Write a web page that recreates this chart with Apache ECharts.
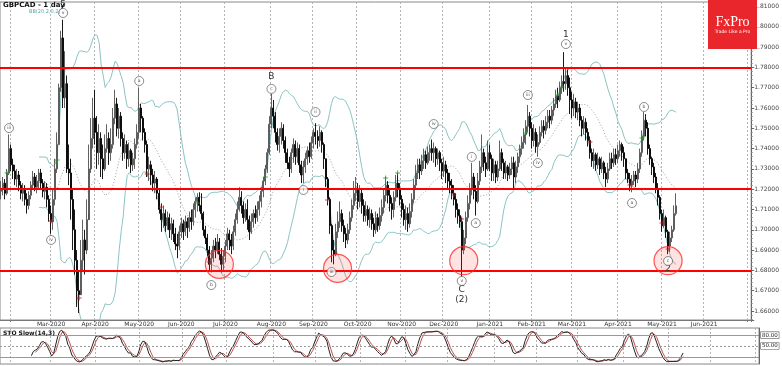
<!DOCTYPE html>
<html><head><meta charset="utf-8">
<script src="https://cdn.jsdelivr.net/npm/echarts@6/dist/echarts.min.js"></script>
<style>html,body{margin:0;padding:0;background:#fff}#c{width:782px;height:366px}</style>
</head><body><div id="c"></div>
<script>
// ---------------- DATA ----------------
const startDate = '2020-01-27';          // first daily bar (weekdays only)
const totalSlots = 375;                   // bars + empty future space on the axis
const firstOpen = 1.7190;
const closes = [
1.7200,1.7230,1.7180,1.7280,1.7400,1.7320,1.7290,1.7250,1.7270,1.7220,
1.7180,1.7200,1.7150,1.7120,1.7170,1.7220,1.7260,1.7210,1.7240,1.7280,
1.7230,1.7190,1.7210,1.7150,1.7080,1.7040,1.7150,1.7300,1.7420,1.7700,
1.7945,1.7650,1.7720,1.7300,1.7280,1.7150,1.7000,1.6850,1.6700,1.6680,
1.6850,1.6950,1.6900,1.7050,1.7300,1.7450,1.7550,1.7480,1.7380,1.7450,
1.7350,1.7300,1.7400,1.7450,1.7380,1.7420,1.7550,1.7620,1.7500,1.7560,
1.7450,1.7380,1.7420,1.7350,1.7390,1.7320,1.7350,1.7420,1.7480,1.7600,
1.7550,1.7480,1.7420,1.7300,1.7320,1.7270,1.7230,1.7250,1.7180,1.7100,
1.7050,1.7080,1.7020,1.7060,1.7000,1.7030,1.6980,1.6930,1.6920,1.6990,
1.7030,1.6990,1.7040,1.7010,1.7060,1.7040,1.7100,1.7140,1.7160,1.7120,
1.7080,1.7000,1.6960,1.6900,1.6830,1.6860,1.6920,1.6900,1.6940,1.6880,
1.6830,1.6870,1.6920,1.6980,1.6950,1.6920,1.6990,1.7050,1.7100,1.7160,
1.7120,1.7060,1.7100,1.7050,1.6990,1.7040,1.7080,1.7060,1.7100,1.7140,
1.7190,1.7240,1.7300,1.7380,1.7520,1.7600,1.7560,1.7480,1.7420,1.7460,
1.7500,1.7440,1.7380,1.7330,1.7300,1.7380,1.7420,1.7360,1.7400,1.7320,
1.7270,1.7310,1.7350,1.7390,1.7360,1.7430,1.7480,1.7460,1.7440,1.7480,
1.7420,1.7350,1.7250,1.7150,1.7020,1.6900,1.6880,1.6990,1.7040,1.7080,
1.7020,1.6980,1.6950,1.7000,1.7060,1.7120,1.7180,1.7200,1.7140,1.7180,
1.7120,1.7070,1.7100,1.7050,1.7080,1.7030,1.7000,1.7060,1.7020,1.7070,
1.7110,1.7170,1.7220,1.7170,1.7130,1.7100,1.7160,1.7230,1.7200,1.7150,
1.7100,1.7050,1.7080,1.7030,1.7090,1.7150,1.7220,1.7280,1.7320,1.7290,
1.7340,1.7370,1.7330,1.7380,1.7400,1.7380,1.7400,1.7350,1.7380,1.7330,
1.7290,1.7320,1.7280,1.7240,1.7220,1.7180,1.7150,1.7100,1.7070,1.7040,
1.6900,1.6960,1.7060,1.7130,1.7200,1.7260,1.7190,1.7140,1.7240,1.7310,
1.7380,1.7330,1.7300,1.7380,1.7350,1.7280,1.7320,1.7260,1.7300,1.7380,
1.7330,1.7280,1.7310,1.7270,1.7300,1.7330,1.7260,1.7310,1.7360,1.7400,
1.7430,1.7470,1.7510,1.7560,1.7500,1.7440,1.7480,1.7410,1.7430,1.7480,
1.7510,1.7490,1.7530,1.7560,1.7540,1.7590,1.7620,1.7660,1.7640,1.7700,
1.7730,1.7720,1.7760,1.7700,1.7640,1.7600,1.7630,1.7580,1.7600,1.7540,
1.7500,1.7530,1.7480,1.7440,1.7380,1.7340,1.7370,1.7320,1.7350,1.7300,
1.7330,1.7280,1.7250,1.7300,1.7350,1.7330,1.7370,1.7350,1.7390,1.7420,
1.7380,1.7350,1.7280,1.7250,1.7220,1.7240,1.7270,1.7250,1.7300,1.7380,
1.7460,1.7540,1.7500,1.7400,1.7350,1.7310,1.7260,1.7200,1.7160,1.7080,
1.7020,1.7060,1.6990,1.6920,1.6960,1.7000,1.7080,1.71183
];
const highs = [
1.7240,1.7260,1.7250,1.7300,1.7470,1.7420,1.7350,1.7320,1.7300,1.7290,
1.7240,1.7230,1.7220,1.7180,1.7190,1.7240,1.7290,1.7280,1.7270,1.7300,
1.7300,1.7250,1.7240,1.7230,1.7170,1.7120,1.7200,1.7350,1.7480,1.7720,
1.7980,1.8035,1.7880,1.7760,1.7420,1.7350,1.7200,1.7100,1.6900,1.6800,
1.6950,1.7050,1.7000,1.7150,1.7420,1.7550,1.7650,1.7690,1.7560,1.7520,
1.7480,1.7420,1.7470,1.7520,1.7480,1.7500,1.7600,1.7690,1.7650,1.7600,
1.7580,1.7480,1.7470,1.7440,1.7430,1.7400,1.7380,1.7450,1.7520,1.7700,
1.7620,1.7560,1.7500,1.7440,1.7360,1.7340,1.7300,1.7290,1.7260,1.7200,
1.7130,1.7120,1.7100,1.7090,1.7080,1.7060,1.7050,1.7010,1.6980,1.7020,
1.7060,1.7050,1.7070,1.7060,1.7090,1.7100,1.7130,1.7160,1.7180,1.7185,
1.7180,1.7090,1.7020,1.6980,1.6920,1.6900,1.6950,1.6960,1.6980,1.6960,
1.6910,1.6900,1.6950,1.7010,1.7000,1.6980,1.7020,1.7080,1.7140,1.7210,
1.7190,1.7140,1.7130,1.7150,1.7070,1.7080,1.7100,1.7120,1.7140,1.7170,
1.7210,1.7260,1.7320,1.7400,1.7560,1.7670,1.7640,1.7580,1.7500,1.7500,
1.7530,1.7520,1.7460,1.7400,1.7360,1.7400,1.7450,1.7440,1.7430,1.7420,
1.7340,1.7340,1.7380,1.7410,1.7430,1.7460,1.7500,1.7525,1.7490,1.7510,
1.7490,1.7430,1.7350,1.7260,1.7160,1.7030,1.6950,1.7030,1.7090,1.7140,
1.7100,1.7050,1.7010,1.7030,1.7090,1.7150,1.7240,1.7260,1.7230,1.7220,
1.7200,1.7150,1.7140,1.7120,1.7110,1.7100,1.7060,1.7090,1.7080,1.7110,
1.7150,1.7200,1.7260,1.7240,1.7200,1.7160,1.7190,1.7270,1.7280,1.7230,
1.7170,1.7130,1.7120,1.7110,1.7130,1.7180,1.7250,1.7320,1.7350,1.7350,
1.7370,1.7400,1.7390,1.7410,1.7420,1.7445,1.7430,1.7410,1.7400,1.7390,
1.7350,1.7360,1.7340,1.7300,1.7280,1.7250,1.7220,1.7180,1.7130,1.7100,
1.7060,1.7000,1.7090,1.7170,1.7230,1.7330,1.7280,1.7220,1.7280,1.7340,
1.7470,1.7400,1.7360,1.7440,1.7420,1.7370,1.7350,1.7340,1.7340,1.7440,
1.7400,1.7350,1.7340,1.7320,1.7330,1.7360,1.7360,1.7340,1.7380,1.7420,
1.7460,1.7500,1.7540,1.7615,1.7580,1.7530,1.7520,1.7500,1.7470,1.7510,
1.7540,1.7540,1.7560,1.7590,1.7590,1.7610,1.7650,1.7690,1.7700,1.7730,
1.7760,1.7875,1.7800,1.7790,1.7750,1.7680,1.7670,1.7650,1.7630,1.7620,
1.7560,1.7560,1.7550,1.7500,1.7460,1.7400,1.7400,1.7380,1.7380,1.7360,
1.7360,1.7340,1.7310,1.7330,1.7380,1.7380,1.7400,1.7400,1.7420,1.7440,
1.7430,1.7410,1.7350,1.7300,1.7280,1.7270,1.7290,1.7290,1.7330,1.7400,
1.7490,1.7580,1.7570,1.7530,1.7420,1.7360,1.7330,1.7280,1.7230,1.7170,
1.7100,1.7100,1.7070,1.7000,1.6990,1.7020,1.7120,1.7180
];
const lows = [
1.7150,1.7170,1.7150,1.7170,1.7270,1.7290,1.7250,1.7220,1.7210,1.7190,
1.7150,1.7140,1.7120,1.7080,1.7100,1.7150,1.7200,1.7190,1.7180,1.7200,
1.7200,1.7160,1.7150,1.7110,1.7040,1.6980,1.7000,1.7120,1.7280,1.7420,
1.7680,1.7600,1.7600,1.7280,1.7220,1.7050,1.6900,1.6780,1.6620,1.6590,
1.6700,1.6800,1.6780,1.6880,1.7080,1.7280,1.7400,1.7420,1.7300,1.7320,
1.7260,1.7250,1.7290,1.7380,1.7320,1.7340,1.7400,1.7520,1.7460,1.7450,
1.7410,1.7340,1.7350,1.7300,1.7310,1.7280,1.7290,1.7300,1.7400,1.7450,
1.7480,1.7440,1.7380,1.7260,1.7240,1.7220,1.7190,1.7180,1.7150,1.7080,
1.6990,1.7010,1.6990,1.7000,1.6960,1.6950,1.6940,1.6900,1.6860,1.6900,
1.6960,1.6950,1.6970,1.6960,1.6990,1.7000,1.7020,1.7060,1.7090,1.7090,
1.7050,1.6970,1.6930,1.6870,1.6800,1.6790,1.6840,1.6860,1.6880,1.6850,
1.6790,1.6800,1.6840,1.6900,1.6900,1.6880,1.6900,1.6970,1.7030,1.7090,
1.7080,1.7030,1.7040,1.7000,1.6950,1.6980,1.7010,1.7030,1.7040,1.7070,
1.7110,1.7160,1.7220,1.7280,1.7370,1.7500,1.7500,1.7430,1.7390,1.7380,
1.7420,1.7400,1.7330,1.7300,1.7260,1.7280,1.7330,1.7320,1.7330,1.7280,
1.7230,1.7230,1.7280,1.7320,1.7330,1.7350,1.7400,1.7420,1.7400,1.7410,
1.7380,1.7300,1.7210,1.7120,1.6980,1.6840,1.6830,1.6870,1.6960,1.7010,
1.6990,1.6940,1.6910,1.6930,1.6980,1.7040,1.7100,1.7140,1.7100,1.7110,
1.7080,1.7040,1.7040,1.7020,1.7010,1.7000,1.6965,1.6980,1.6990,1.7000,
1.7040,1.7080,1.7140,1.7130,1.7090,1.7050,1.7060,1.7140,1.7160,1.7120,
1.7060,1.7020,1.7000,1.6990,1.7010,1.7060,1.7130,1.7200,1.7250,1.7250,
1.7270,1.7300,1.7300,1.7320,1.7340,1.7340,1.7330,1.7310,1.7320,1.7290,
1.7250,1.7260,1.7230,1.7200,1.7180,1.7150,1.7120,1.7060,1.7030,1.7010,
1.6770,1.6880,1.6930,1.7040,1.7100,1.7170,1.7150,1.7070,1.7130,1.7220,
1.7280,1.7290,1.7260,1.7290,1.7290,1.7240,1.7240,1.7230,1.7240,1.7290,
1.7290,1.7250,1.7250,1.7240,1.7250,1.7270,1.7200,1.7230,1.7280,1.7330,
1.7370,1.7400,1.7420,1.7480,1.7460,1.7400,1.7410,1.7380,1.7360,1.7420,
1.7460,1.7450,1.7470,1.7500,1.7500,1.7520,1.7560,1.7600,1.7600,1.7630,
1.7670,1.7680,1.7690,1.7660,1.7570,1.7550,1.7560,1.7550,1.7540,1.7510,
1.7460,1.7470,1.7440,1.7410,1.7350,1.7310,1.7300,1.7290,1.7300,1.7270,
1.7280,1.7250,1.7210,1.7230,1.7290,1.7300,1.7310,1.7320,1.7330,1.7360,
1.7340,1.7310,1.7250,1.7230,1.7190,1.7185,1.7220,1.7210,1.7230,1.7280,
1.7360,1.7440,1.7460,1.7370,1.7320,1.7270,1.7230,1.7180,1.7120,1.7050,
1.6990,1.7010,1.6960,1.6880,1.6890,1.6940,1.6990,1.7070
];
const resistanceLevels = [1.7800, 1.7182, 1.6828];   // red horizontal lines
const recentLowBox = 1.69588;                          // pink box on price axis
// wave annotations: [bar index, price, text]
const circledLabels = [
  [4,1.7501,'iii'],[25,1.6950,'iv'],[31,1.8068,'v'],[69,1.7733,'a'],[105,1.6728,'b'],
  [135,1.7694,'c'],[151,1.7196,'i'],[157,1.7580,'ii'],[165,1.6792,'iii'],[216,1.7521,'iv'],
  [230,1.6748,'v'],[235,1.7359,'i'],[237,1.7033,'a'],[263,1.7664,'iii'],[268,1.7329,'iv'],
  [282,1.7915,'v'],[315,1.7132,'a'],[321,1.7605,'b'],[333,1.6846,'c']
];
const waveTitles = [
  [31,1.8108,'5'],[135,1.7753,'B'],[282,1.7960,'1'],[230,1.6704,'C'],[230,1.6655,'(2)'],[333,1.6810,'2']
];
const zoneCircles = [[109,1.6830],[168,1.6810],[231,1.6848],[333,1.6848]];
const upSignals = [[3,1.7280],[28,1.7344],[98,1.7132],[132,1.7260],[192,1.7255],[198,1.7280],[262,1.7477],[278,1.7664],[280,1.7703],[320,1.7452]];
const downSignals = [[25,1.7043],[39,1.6664],[73,1.7275],[80,1.7112],[104,1.6841],[163,1.7147],[226,1.7172],[230,1.7053],[294,1.7432],[314,1.7221],[330,1.7033],[333,1.6906]];

// ---------------- derived structures ----------------
const monthNames = ['Jan','Feb','Mar','Apr','May','Jun','Jul','Aug','Sep','Oct','Nov','Dec'];
const dates = [];
{
  const d = new Date(startDate + 'T00:00:00Z');
  while (dates.length < totalSlots) {
    const wd = d.getUTCDay();
    if (wd > 0 && wd < 6) dates.push(new Date(d.getTime()));
    d.setUTCDate(d.getUTCDate() + 1);
  }
}
const cats = dates.map(d => d.toISOString().slice(0, 10));
const monthStart = dates.map((d, i) => i > 0 && d.getUTCMonth() !== dates[i - 1].getUTCMonth());
const monthLabel = i => monthNames[dates[i].getUTCMonth()] + '-' + dates[i].getUTCFullYear();

const opens = closes.map((c, i) => i === 0 ? firstOpen : closes[i - 1]);
const ohlc = closes.map((c, i) => [opens[i], c, lows[i], highs[i]]);
const toItems = arr => arr.map(a => ({ value: [a[0], a[1]], name: a[2] }));

// Bollinger Bands (20, 2)
const bbU = [], bbM = [], bbL = [];
for (let i = 0; i < closes.length; i++) {
  if (i < 19) { bbU.push('-'); bbM.push('-'); bbL.push('-'); continue; }
  const w = closes.slice(i - 19, i + 1);
  const m = w.reduce((a, b) => a + b, 0) / 20;
  const sd = Math.sqrt(w.reduce((a, b) => a + (b - m) * (b - m), 0) / 20);
  bbU.push(m + 2 * sd); bbM.push(m); bbL.push(m - 2 * sd);
}
// Slow stochastic (14,3,3)
const rawK = closes.map((c, i) => {
  if (i < 13) return null;
  const hh = Math.max(...highs.slice(i - 13, i + 1));
  const ll = Math.min(...lows.slice(i - 13, i + 1));
  return 100 * (c - ll) / (hh - ll);
});
const sma3 = (arr, i) => (i >= 2 && arr[i] != null && arr[i - 1] != null && arr[i - 2] != null) ? (arr[i] + arr[i - 1] + arr[i - 2]) / 3 : null;
const slowK = rawK.map((v, i) => sma3(rawK, i));
const slowD = slowK.map((v, i) => sma3(slowK, i));
const lastK = slowK[slowK.length - 1];

// ---------------- chart ----------------
const chart = echarts.init(document.getElementById('c'));
const FONT = '"DejaVu Sans", sans-serif';
const plus = 'path://M2,0h1v2h2v1h-2v2h-1v-2h-2v-1h2z';
const monthSplit = {
  show: true,
  interval: (idx) => monthStart[idx],
  lineStyle: { color: '#b5b5b5', type: [2, 2], width: 1 }
};
const minP = 1.65557, maxP = 1.81222;

chart.setOption({
  animation: false,
  backgroundColor: '#fff',
  grid: [
    { left: 0, top: 2, width: 759, height: 318, show: true, borderColor: '#888', borderWidth: 1 },
    { left: 0, top: 328, width: 759, height: 36, show: true, borderColor: '#888', borderWidth: 1 }
  ],
  xAxis: [
    { type: 'category', data: cats, gridIndex: 0, boundaryGap: true,
      axisLine: { show: true, lineStyle: { color: '#777' } },
      axisTick: { show: true, interval: (idx) => monthStart[idx], length: 2, lineStyle: { color: '#777' } },
      axisLabel: { show: true, interval: (idx) => monthStart[idx] && idx > 20 && idx < 360,
        formatter: (v, idx) => monthLabel(idx), fontSize: 6, margin: 1, color: '#333', fontFamily: FONT },
      splitLine: monthSplit },
    { type: 'category', data: cats, gridIndex: 1, boundaryGap: true,
      axisLine: { show: false }, axisTick: { show: false }, axisLabel: { show: false },
      splitLine: monthSplit }
  ],
  yAxis: [
    { type: 'value', gridIndex: 0, position: 'right', min: minP, max: maxP, splitNumber: 15,
      axisLine: { show: true, lineStyle: { color: '#666' } },
      axisTick: { show: true, length: 3, lineStyle: { color: '#666' } },
      minorTick: { show: true, splitNumber: 5, length: 1.5, lineStyle: { color: '#888' } },
      splitLine: { show: false },
      axisLabel: { fontSize: 6, margin: 3, color: '#444', fontFamily: FONT,
        showMinLabel: false, showMaxLabel: false, formatter: v => v.toFixed(5) } },
    { type: 'value', gridIndex: 1, position: 'right', min: 0, max: 100,
      axisLine: { show: true, lineStyle: { color: '#666' } },
      axisTick: { show: false }, axisLabel: { show: false }, splitLine: { show: false } }
  ],
  series: [
    { name: 'bbU', type: 'line', data: bbU, showSymbol: false, symbol: 'none', z: 1,
      lineStyle: { color: '#8cc3c3', width: 1 } },
    { name: 'bbL', type: 'line', data: bbL, showSymbol: false, symbol: 'none', z: 1,
      lineStyle: { color: '#8cc3c3', width: 1 } },
    { name: 'bbM', type: 'line', data: bbM, showSymbol: false, symbol: 'none', z: 1,
      lineStyle: { color: '#a0a0a0', width: 1, type: [1, 2] } },
    { name: 'price', type: 'candlestick', data: ohlc, barWidth: 1.5, z: 3,
      itemStyle: { color: '#b4b4b4', color0: '#000', borderColor: '#505050', borderColor0: '#000', borderWidth: 0.9 },
      markLine: {
        silent: true, symbol: 'none', animation: false,
        data: [
          ...resistanceLevels.map(v => ({ yAxis: v, lineStyle: { color: '#ff0000', width: 2, type: 'solid', opacity: 1 }, label: { show: false } })),
          { yAxis: closes[closes.length - 1], lineStyle: { opacity: 0 },
            label: { show: true, position: 'end', distance: 2, formatter: p => p.value.toFixed(5), fontSize: 6, color: '#222',
              backgroundColor: '#d8e0ea', borderColor: '#556', borderWidth: 0.6, padding: [0, 1], fontFamily: FONT } },
          { yAxis: recentLowBox, lineStyle: { opacity: 0 },
            label: { show: true, position: 'end', distance: 2, formatter: p => p.value.toFixed(5), fontSize: 6, color: '#222',
              backgroundColor: '#eeb3b3', borderColor: '#a55', borderWidth: 0.6, padding: [0, 1], fontFamily: FONT } }
        ]
      },
      markPoint: {
        silent: true, animation: false, symbol: 'circle', symbolSize: 1,
        itemStyle: { color: 'rgba(0,0,0,0)' },
        label: { show: true, position: 'inside', fontSize: 9, color: '#333', fontFamily: FONT, formatter: p => p.name },
        data: waveTitles.map(a => ({ coord: [a[0], a[1]], name: a[2], value: a[1] }))
      } },
    { name: 'zones', type: 'scatter', data: zoneCircles, symbol: 'circle', symbolSize: 28, z: 5, clip: false,
      itemStyle: { color: 'rgba(255,60,60,0.18)', borderColor: '#ff2a2a', borderWidth: 1.2 } },
    { name: 'up', type: 'scatter', data: upSignals, symbol: plus, symbolSize: 5, z: 6,
      itemStyle: { color: '#1f9a1f' } },
    { name: 'down', type: 'scatter', data: downSignals, symbol: plus, symbolSize: 5, z: 6,
      itemStyle: { color: '#c01818' } },
    { name: 'waves', type: 'scatter', data: toItems(circledLabels), symbol: 'circle', symbolSize: 9, z: 7, clip: false,
      itemStyle: { color: '#fff', borderColor: '#333', borderWidth: 0.7 },
      label: { show: true, position: 'inside', formatter: p => p.name, fontSize: 4.5, color: '#222', fontFamily: FONT } },
    { name: 'K', type: 'line', xAxisIndex: 1, yAxisIndex: 1, data: slowK, showSymbol: false, symbol: 'none', z: 3,
      lineStyle: { color: '#222', width: 1 },
      markLine: {
        silent: true, symbol: 'none', animation: false,
        data: [
          { yAxis: 80, lineStyle: { color: '#999', width: 1, type: 'solid' },
            label: { show: true, position: 'end', distance: 2, formatter: '80.00', fontSize: 5.5, color: '#222', backgroundColor: '#fff', borderColor: '#555', borderWidth: 0.6, padding: [0, 1], fontFamily: FONT } },
          { yAxis: 50, lineStyle: { color: '#999', width: 1, type: [2, 2] },
            label: { show: true, position: 'end', distance: 2, formatter: '50.00', fontSize: 5.5, color: '#222', backgroundColor: '#fff', borderColor: '#555', borderWidth: 0.6, padding: [0, 1], fontFamily: FONT } },
          { yAxis: 20, lineStyle: { color: '#999', width: 1, type: 'solid' }, label: { show: false } },
          { yAxis: lastK, lineStyle: { opacity: 0 },
            label: { show: true, position: 'end', distance: 2, formatter: p => p.value.toFixed(2), fontSize: 5.5, color: '#222', backgroundColor: '#fff', borderColor: '#555', borderWidth: 0.6, padding: [0, 1], fontFamily: FONT } }
        ]
      } },
    { name: 'D', type: 'line', xAxisIndex: 1, yAxisIndex: 1, data: slowD, showSymbol: false, symbol: 'none', z: 2,
      lineStyle: { color: '#c0504d', width: 1 } }
  ],
  graphic: [
    { type: 'text', left: 3, top: 2, z: 20, style: { text: 'GBPCAD - 1 day', font: 'bold 7px ' + FONT, fill: '#111' } },
    { type: 'text', left: 29, top: 9, z: 20, style: { text: 'BB(20,2,0,2)', font: '5px ' + FONT, fill: '#5aa6a6' } },
    { type: 'text', left: 3, top: 330, z: 20, style: { text: 'STO Slow(14,3)', font: 'bold 6px ' + FONT, fill: '#111' } },
    { type: 'rect', shape: { x: 708, y: 0, width: 49, height: 49 }, z: 20, style: { fill: '#e8262b' } },
    { type: 'text', z: 21, style: { x: 732.5, y: 22, text: 'FxPro', font: '14px "Liberation Serif", serif', fill: '#fff', textAlign: 'center', textVerticalAlign: 'middle' } },
    { type: 'text', z: 21, style: { x: 732.5, y: 32, text: 'Trade Like a Pro', font: '4.5px ' + FONT, fill: '#fff', textAlign: 'center', textVerticalAlign: 'middle' } }
  ]
});
</script>
</body></html>
